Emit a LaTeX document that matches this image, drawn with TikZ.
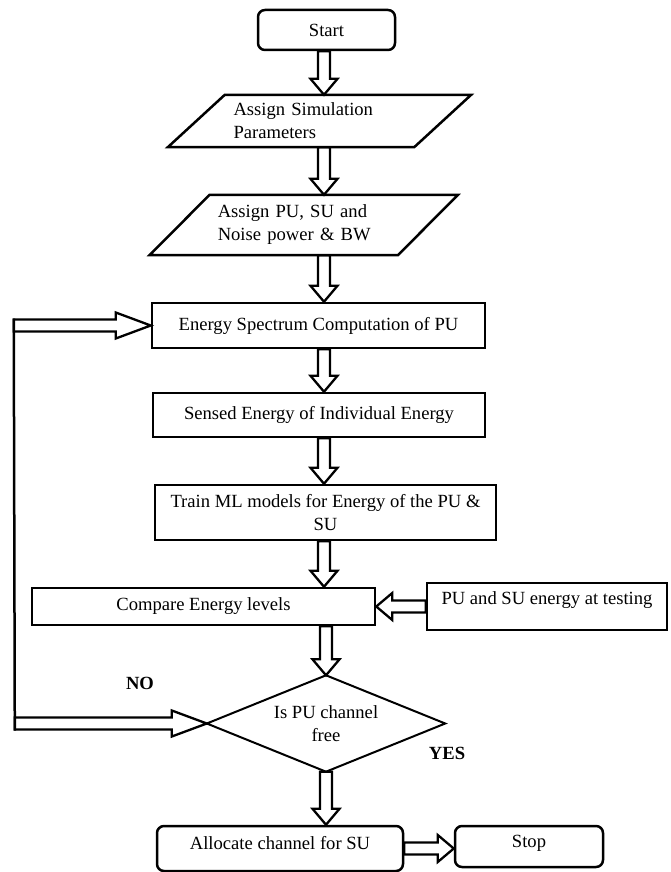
\documentclass[tikz,border=0pt]{standalone}
\usepackage{fontspec}
\setmainfont{Liberation Serif}
\usetikzlibrary{calc}
\begin{document}
\begin{tikzpicture}[x=1pt,y=-1pt,
  every node/.style={font=\fontsize{18.6}{23}\selectfont, inner sep=0pt, text=black},
  boxline/.style={line width=2.5pt},
  procbox/.style={boxline, draw, rectangle},
  termbox/.style={boxline, draw, rounded corners=7pt},
  blockarrow/.style 2 args={line width=2.3pt, line join=miter, to path={
    ($(\tikztostart)!6pt!90:(\tikztotarget)$) --
    ($(\tikztotarget)!#1!(\tikztostart)!6pt!90:(\tikztotarget)$) --
    ($(\tikztotarget)!#1!(\tikztostart)!#2!90:(\tikztotarget)$) --
    (\tikztotarget) --
    ($(\tikztotarget)!#1!(\tikztostart)!#2!-90:(\tikztotarget)$) --
    ($(\tikztotarget)!#1!(\tikztostart)!6pt!-90:(\tikztotarget)$) --
    ($(\tikztostart)!6pt!-90:(\tikztotarget)$) -- cycle}},
  barrow/.style={blockarrow={16pt}{13.5pt}},
  barrowlong/.style={blockarrow={35pt}{13pt}},
  lab/.style={font=\fontsize{18.6}{22}\selectfont\bfseries}
]
\useasboundingbox (0,0) rectangle (670,872);

% nodes
\node[termbox, minimum width=137pt, minimum height=40pt] (start) at (326.5,30) {Start};

\node[minimum width=246pt, minimum height=52pt, text width=172pt, align=left] (p1) at (319.5,121) {Assign Simulation\\Parameters};
\draw[boxline] ($(p1.north west)+(28.5,0)$) -- ($(p1.north east)+(28.5,0)$) -- ($(p1.south east)+(-28.5,0)$) -- ($(p1.south west)+(-28.5,0)$) -- cycle;

\node[minimum width=248pt, minimum height=60pt, text width=172pt, align=left] (p2) at (303.75,225) {Assign PU, SU and\\Noise power \& BW};
\draw[boxline] ($(p2.north west)+(30,0)$) -- ($(p2.north east)+(30,0)$) -- ($(p2.south east)+(-30,0)$) -- ($(p2.south west)+(-30,0)$) -- cycle;

\node[procbox, minimum width=333pt, minimum height=45pt] (energy) at (318.5,325.5) {Energy Spectrum Computation of PU};
\node[procbox, minimum width=332pt, minimum height=44pt] (sensed) at (319,415) {Sensed Energy of Individual Energy};
\node[procbox, minimum width=341pt, minimum height=55pt, align=center] (train) at (325.5,512.5) {Train ML models for Energy of the PU \&\\SU};
\node[procbox, minimum width=343pt, minimum height=37pt] (compare) at (203.5,606.5) {Compare Energy levels};
\node[procbox, minimum width=240pt, minimum height=47pt] (putest) at (547,606.5) {};
\node (putestt) at (547,600) {PU and SU energy at testing};

\node[minimum width=238pt, minimum height=96pt, align=center] (dec) at (326,723.5) {Is PU channel\\free};
\draw[line width=2pt] (dec.north) -- (dec.east) -- (dec.south) -- (dec.west) -- cycle;

\node[termbox, minimum width=246pt, minimum height=45pt] (alloc) at (280,848.5) {};
\node (alloct) at (280,843) {Allocate channel for SU};
\node[termbox, minimum width=148pt, minimum height=41pt] (stop) at (529,846.5) {};
\node (stopt) at (529,843) {Stop};

\node[lab] (no) at (140,683) {NO};
\node[lab] (yes) at (447,753) {YES};

% connectors
\coordinate (ax) at (324,0);
\draw[barrow] (start.south -| ax) to (p1.north -| ax);
\draw[barrow] (p1.south -| ax) to (p2.north -| ax);
\draw[barrow] (p2.south -| ax) to (energy.north -| ax);
\draw[barrow] (energy.south -| ax) to (sensed.north -| ax);
\draw[barrow] (sensed.south -| ax) to (train.north -| ax);
\draw[barrow] (train.south -| ax) to (compare.north -| ax);
\draw[barrow] (compare.south -| dec.north) to (dec.north);
\draw[barrow] (dec.south) to (alloc.north -| dec.south);
\draw[barrow] (putest.west) to (compare.east);
\draw[barrow] (alloc.east) to (stop.west |- alloc.east);

% loop back
\path (energy.west) ++(-137,0) coordinate (lt);
\path (dec.west) ++(-192,0) coordinate (lb);
\draw[barrowlong] (lt) to (energy.west);
\draw[barrowlong] (lb) to (dec.west);
\draw[boxline] ($(lt)+(0,-7)$) -- ($(lb)+(0,7)$);
\end{tikzpicture}
\end{document}
